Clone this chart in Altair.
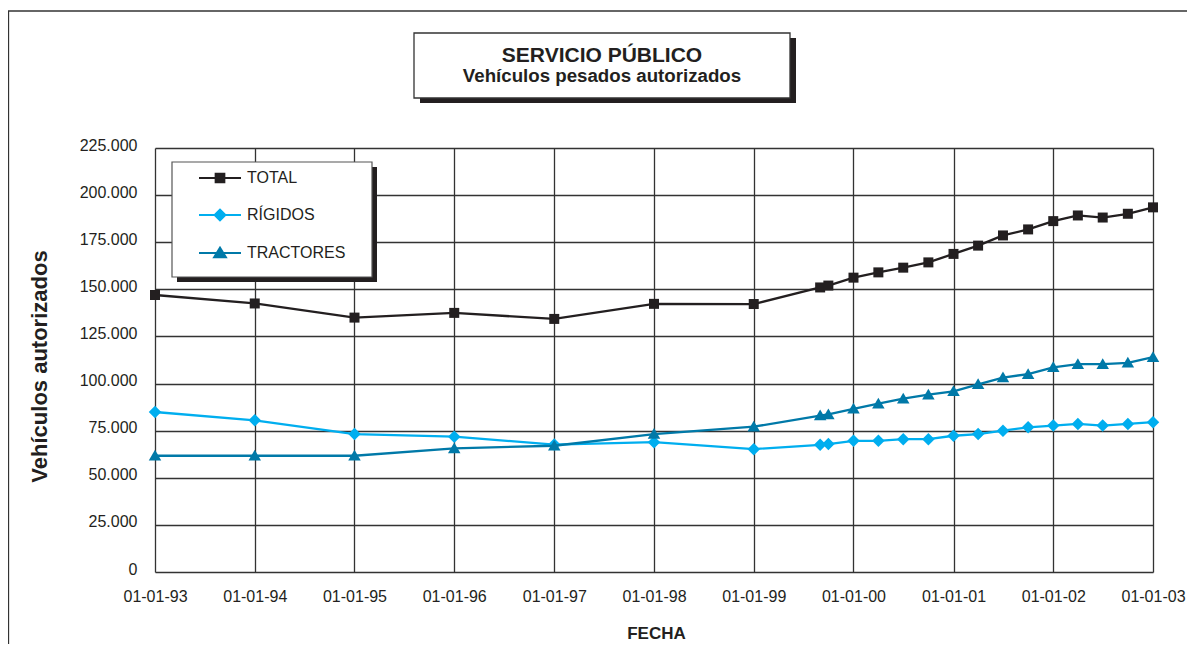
import altair as alt
import pandas as pd

# ---------------- data ----------------
fechas = ["1993-01-01", "1994-01-01", "1995-01-01", "1996-01-01", "1997-01-01",
          "1998-01-01", "1999-01-01",
          "1999-09-01", "1999-10-01",
          "2000-01-01", "2000-04-01", "2000-07-01", "2000-10-01",
          "2001-01-01", "2001-04-01", "2001-07-01", "2001-10-01",
          "2002-01-01", "2002-04-01", "2002-07-01", "2002-10-01",
          "2003-01-01"]
total = [147000, 142500, 135000, 137500, 134300, 142300, 142200,
         151000, 152000,
         156200, 159000, 161500, 164300,
         168800, 173200, 178600, 181800,
         186200, 189200, 188100, 190100,
         193500]
rigidos = [84900, 80500, 73200, 71800, 67600, 68900, 65200,
           67500, 67900,
           69600, 69600, 70500, 70500,
           72300, 73200, 75000, 76800,
           77700, 78600, 77700, 78600,
           79500]
tractores = [61700, 61700, 61700, 65600, 67000, 73200, 77100,
             83000, 83600,
             86600, 89300, 92000, 94100,
             95900, 99600, 103200, 105000,
             108600, 110300, 110300, 111000,
             114000]

series = ["TOTAL", "RÍGIDOS", "TRACTORES"]
colores = ["#231f20", "#00aeef", "#0079a8"]
x_ticks = ["1993-01-01", "1994-01-01", "1995-01-01", "1996-01-01", "1997-01-01",
           "1998-01-01", "1999-01-01", "2000-01-01", "2001-01-01", "2002-01-01",
           "2003-01-01"]
y_ticks = [0, 25000, 50000, 75000, 100000, 125000, 150000, 175000, 200000, 225000]
titulo = ["SERVICIO PÚBLICO", "Vehículos pesados autorizados"]
eje_x = "FECHA"
eje_y = "Vehículos autorizados"

# marker shapes (unit paths) and legend symbols (line + marker)
marker_paths = ["M-1,-1H1V1H-1Z",
                "M-1.25,0L0,-1.25L1.25,0L0,1.25Z",
                "M-1.25,0.95L0,-1.2L1.25,0.95Z"]
legend_paths = ["M-4.2,0H4.2" + p for p in
                ["M-0.85,-0.85H0.85V0.85H-0.85Z",
                 "M-1.05,0L0,-1.05L1.05,0L0,1.05Z",
                 "M-1.15,0.85L0,-1.05L1.15,0.85Z"]]

rows = []
for s, vals in zip(series, [total, rigidos, tractores]):
    for f, v in zip(fechas, vals):
        rows.append({"fecha": f, "serie": s, "valor": v})
df = pd.DataFrame(rows)


def to_ms(d):
    return int(pd.Timestamp(d, tz="UTC").timestamp() * 1000)


x_tick_ms = [to_ms(d) for d in x_ticks]

FONT = "Liberation Sans, Arial, Helvetica, sans-serif"
INK = "#231f20"
GRID = "#333333"

W, H = 998, 424

x_enc = alt.X(
    "fecha:T",
    scale=alt.Scale(type="utc", domain=[x_tick_ms[0], x_tick_ms[-1]]),
    axis=alt.Axis(values=x_tick_ms, format="%d-%m-%y", labelFont=FONT,
                  labelFontSize=16, labelColor=INK, labelPadding=16,
                  labelFlush=False, labelOverlap=False,
                  ticks=False, tickSize=0, domain=False, grid=True,
                  gridColor=GRID, gridWidth=1.3, gridOpacity=1,
                  title=eje_x, titleFont=FONT, titleFontSize=17,
                  titleFontWeight="bold", titleColor=INK,
                  titleBaseline="alphabetic", titleY=66, titleX=501),
)
y_enc = alt.Y(
    "valor:Q",
    scale=alt.Scale(domain=[0, 225000], nice=False, zero=True),
    axis=alt.Axis(values=y_ticks,
                  labelExpr="replace(format(datum.value, ','), ',', '.')",
                  labelFont=FONT, labelFontSize=16, labelColor=INK,
                  labelPadding=18, labelOffset=-3, ticks=False, tickSize=0,
                  domain=False, grid=True, gridColor=GRID, gridWidth=1.3,
                  gridOpacity=1, title=eje_y, titleFont=FONT,
                  titleFontSize=22, titleFontWeight="bold", titleColor=INK,
                  titleBaseline="alphabetic", titleX=-109, titleY=218,
                  titleAngle=270),
)

base = alt.Chart(df)

series_layers = []
for s, c, p in zip(series, colores, marker_paths):
    sub = base.transform_filter(alt.datum.serie == s)
    series_layers.append(
        sub.mark_line(strokeWidth=2.3, color=c).encode(x=x_enc, y=y_enc))
    series_layers.append(
        sub.mark_point(shape=p, filled=True, size=100, opacity=1, color=c)
        .encode(x=x_enc, y=y_enc))

one = pd.DataFrame({"k": [0]})

frame_top = alt.Chart(one).mark_rule(color="#333333", strokeWidth=1.3).encode(
    x=alt.value(-147), x2=alt.value(1040), y=alt.value(-137))
frame_left = alt.Chart(one).mark_rule(color="#333333", strokeWidth=1.3).encode(
    x=alt.value(-146.5), y=alt.value(-137), y2=alt.value(510))

title_shadow = alt.Chart(one).mark_rect(color=INK).encode(
    x=alt.value(265), x2=alt.value(641), y=alt.value(-110), y2=alt.value(-45))
title_box = alt.Chart(one).mark_rect(fill="white", stroke="#333333", strokeWidth=1.3).encode(
    x=alt.value(259), x2=alt.value(635), y=alt.value(-115), y2=alt.value(-50))
title_l1 = alt.Chart(one).mark_text(font=FONT, fontSize=21, fontWeight="bold", color=INK,
                                    align="center", baseline="alphabetic").encode(
    x=alt.value(447), y=alt.value(-86), text=alt.value(titulo[0]))
title_l2 = alt.Chart(one).mark_text(font=FONT, fontSize=18.7, fontWeight="bold", color=INK,
                                    align="center", baseline="alphabetic").encode(
    x=alt.value(447), y=alt.value(-66), text=alt.value(titulo[1]))

leg_shadow = alt.Chart(one).mark_rect(color=INK).encode(
    x=alt.value(22), x2=alt.value(222), y=alt.value(19), y2=alt.value(134))
leg_box = alt.Chart(one).mark_rect(fill="white", stroke="#555555", strokeWidth=1.2).encode(
    x=alt.value(17), x2=alt.value(217), y=alt.value(14), y2=alt.value(129))

leg_def = alt.Legend(title=None, orient="none", legendX=57, legendY=22,
                     labelFont=FONT, labelFontSize=16, labelColor=INK,
                     padding=0, rowPadding=18, labelOffset=19,
                     symbolSize=100, symbolStrokeWidth=2.2, symbolOpacity=1)
legend_layer = alt.Chart(pd.DataFrame({"serie": series})).mark_point(
    filled=True, size=100, strokeWidth=2.2, opacity=1).encode(
    x=alt.value(-3000), y=alt.value(-3000),
    fill=alt.Fill("serie:N", scale=alt.Scale(domain=series, range=colores), legend=leg_def),
    stroke=alt.Stroke("serie:N", scale=alt.Scale(domain=series, range=colores), legend=leg_def),
    shape=alt.Shape("serie:N", scale=alt.Scale(domain=series, range=legend_paths), legend=leg_def),
)

chart = alt.layer(
    frame_top, frame_left, title_shadow, title_box, title_l1, title_l2,
    leg_shadow, leg_box, *series_layers, legend_layer,
).properties(
    width=W, height=H,
    autosize=alt.AutoSizeParams(type="none"),
    padding={"left": 147, "top": 140, "right": 34, "bottom": 72},
    background="white",
).configure_view(stroke=None)

chart.save("out.html", embed_options={"renderer": "svg", "actions": False})
